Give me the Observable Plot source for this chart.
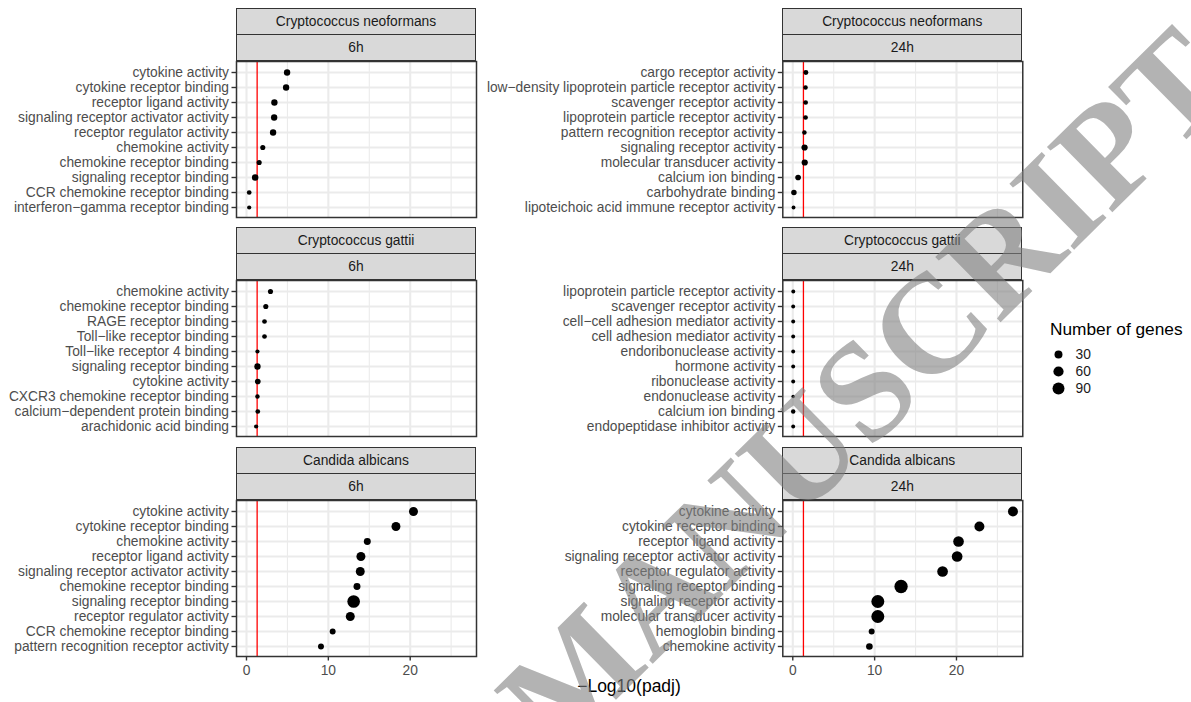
<!DOCTYPE html>
<html>
<head>
<meta charset="utf-8">
<script src="https://cdn.jsdelivr.net/npm/d3@7"></script>
<script src="https://cdn.jsdelivr.net/npm/@observablehq/plot@0.6"></script>
<style>
  body { margin: 0; background: #fff; }
  #chart { position: relative; width: 1191px; height: 702px; overflow: hidden;
           font-family: "Liberation Sans", Arial, sans-serif; }
  .abs { position: absolute; }
  .strip { position: absolute; box-sizing: border-box; background: #D9D9D9;
           border: 1.5px solid #333333; color: #1A1A1A; font-size: 13.8px;
           display: flex; align-items: center; justify-content: center; }
</style>
</head>
<body>
<div id="chart"></div>
<script>
// ---------------- data ----------------
const speciesNames = ["Cryptococcus neoformans", "Cryptococcus gattii", "Candida albicans"];
const timePoints = ["6h", "24h"];

const cn6Terms = ["cytokine activity", "cytokine receptor binding", "receptor ligand activity",
  "signaling receptor activator activity", "receptor regulator activity", "chemokine activity",
  "chemokine receptor binding", "signaling receptor binding", "CCR chemokine receptor binding",
  "interferon\u2212gamma receptor binding"];
const cn6LogP = [4.96, 4.84, 3.41, 3.38, 3.25, 1.99, 1.55, 1.06, 0.33, 0.33];
const cn6Genes = [15, 15, 15, 15, 15, 7, 7, 16, 5, 3];

const cn24Terms = ["cargo receptor activity", "low\u2212density lipoprotein particle receptor activity",
  "scavenger receptor activity", "lipoprotein particle receptor activity",
  "pattern recognition receptor activity", "signaling receptor activity",
  "molecular transducer activity", "calcium ion binding", "carbohydrate binding",
  "lipoteichoic acid immune receptor activity"];
const cn24LogP = [1.60, 1.56, 1.57, 1.56, 1.42, 1.44, 1.46, 0.65, 0.14, 0.09];
const cn24Genes = [6, 4, 5, 5, 4, 14, 14, 10, 9, 2];

const cg6Terms = ["chemokine activity", "chemokine receptor binding", "RAGE receptor binding",
  "Toll\u2212like receptor binding", "Toll\u2212like receptor 4 binding", "signaling receptor binding",
  "cytokine activity", "CXCR3 chemokine receptor binding", "calcium\u2212dependent protein binding",
  "arachidonic acid binding"];
const cg6LogP = [2.93, 2.36, 2.20, 2.20, 1.34, 1.34, 1.38, 1.34, 1.38, 1.18];
const cg6Genes = [7, 7, 5, 5, 3, 15, 10, 4, 5, 3];

const cg24Terms = ["lipoprotein particle receptor activity", "scavenger receptor activity",
  "cell\u2212cell adhesion mediator activity", "cell adhesion mediator activity",
  "endoribonuclease activity", "hormone activity", "ribonuclease activity",
  "endonuclease activity", "calcium ion binding", "endopeptidase inhibitor activity"];
const cg24LogP = [0.06, 0.05, 0.05, 0.05, 0.05, 0.05, 0.05, 0.04, 0.05, 0.05];
const cg24Genes = [2, 2, 2, 2, 2, 2, 2, 1, 4, 2];

const ca6Terms = ["cytokine activity", "cytokine receptor binding", "chemokine activity",
  "receptor ligand activity", "signaling receptor activator activity", "chemokine receptor binding",
  "signaling receptor binding", "receptor regulator activity", "CCR chemokine receptor binding",
  "pattern recognition receptor activity"];
const ca6LogP = [20.4, 18.26, 14.76, 13.98, 13.9, 13.5, 13.09, 12.68, 10.53, 9.1];
const ca6Genes = [42, 42, 20, 42, 42, 20, 103, 42, 12, 12];

const ca24Terms = ["cytokine activity", "cytokine receptor binding", "receptor ligand activity",
  "signaling receptor activator activity", "receptor regulator activity", "signaling receptor binding",
  "signaling receptor activity", "molecular transducer activity", "hemoglobin binding",
  "chemokine activity"];
const ca24LogP = [26.9, 22.8, 20.25, 20.08, 18.3, 13.23, 10.39, 10.39, 9.64, 9.36];
const ca24Genes = [56, 56, 67, 67, 67, 117, 110, 110, 12, 17];

const xMajorTicks = [0, 10, 20];
const xMinorTicks = [5, 15, 25];
const padjCutoff = 0.05;
const legendGenes = [30, 60, 90];

// ---------------- assemble ----------------
const panelSets = [
  [cn6Terms, cn6LogP, cn6Genes], [cn24Terms, cn24LogP, cn24Genes],
  [cg6Terms, cg6LogP, cg6Genes], [cg24Terms, cg24LogP, cg24Genes],
  [ca6Terms, ca6LogP, ca6Genes], [ca24Terms, ca24LogP, ca24Genes]
];
const panels = panelSets.map(([terms, lp, n], i) => ({
  species: speciesNames[Math.floor(i / 2)],
  time: timePoints[i % 2],
  row: Math.floor(i / 2), col: i % 2,
  terms,
  rows: terms.map((t, j) => ({term: t, logp: lp[j], genes: n[j]}))
}));

const FONT = "'Liberation Sans', Arial, sans-serif";
const FS = 13.8;
const xDomain = [-1.22, 28.1];
const rScale = {type: "sqrt", domain: [2, 100], range: [1.95, 6.243]};
const cutoff = -Math.log10(padjCutoff);

// layout
const svgLeft = [0, 480];
const panelLeft = [236, 782.3];
const panelW = 240;
const rowTop = [61, 280.3, 500];
const panelH = 156;
const stripH = 27;

const chart = document.getElementById("chart");

function addDiv(cls, styles, text) {
  const d = document.createElement("div");
  d.className = cls;
  Object.assign(d.style, styles);
  if (text != null) d.textContent = text;
  chart.appendChild(d);
  return d;
}

for (const p of panels) {
  const showX = p.row === 2;
  const mt = 2, mb = showX ? 40 : 2, mr = 4;
  const ml = panelLeft[p.col] - svgLeft[p.col];
  const width = ml + panelW + mr;
  const height = mt + panelH + mb;
  const marks = [
    Plot.gridX({ticks: xMinorTicks, stroke: "#EBEBEB", strokeOpacity: 1, strokeWidth: 1.1}),
    Plot.gridX({ticks: xMajorTicks, stroke: "#EBEBEB", strokeOpacity: 1, strokeWidth: 2.1}),
    Plot.gridY({stroke: "#EBEBEB", strokeOpacity: 1, strokeWidth: 2.1}),
    Plot.ruleX([cutoff], {stroke: "#FF0000", strokeWidth: 1.3}),
    Plot.dot(p.rows, {x: "logp", y: "term", r: "genes", fill: "black", stroke: "none"}),
    Plot.axisY({tickSize: 4.5, tickPadding: 3, stroke: "#333333", strokeWidth: 1.4,
      fill: "#4D4D4D", fontSize: FS, label: null}),
    Plot.frame({stroke: "#333333", strokeWidth: 1.5})
  ];
  if (showX) {
    marks.push(Plot.axisX({ticks: xMajorTicks, tickSize: 4.5, tickPadding: 4, stroke: "#333333",
      strokeWidth: 1.4, fill: "#4D4D4D", fontSize: FS, label: null}));
  }
  const svg = Plot.plot({
    width, height, marginLeft: ml, marginRight: mr, marginTop: mt, marginBottom: mb,
    style: {fontFamily: FONT, fontSize: FS + "px", background: "transparent", overflow: "visible"},
    x: {domain: xDomain, axis: null},
    y: {type: "point", domain: p.terms, padding: 0.6, axis: null},
    r: rScale,
    marks
  });
  svg.classList.add("abs");
  svg.style.left = svgLeft[p.col] + "px";
  svg.style.top = (rowTop[p.row] - mt) + "px";
  chart.appendChild(svg);

  // strips
  const top = rowTop[p.row] - 2 * stripH + 0.5;
  addDiv("strip", {left: panelLeft[p.col] + "px", top: top + "px", width: panelW + "px", height: stripH + "px"}, p.species);
  addDiv("strip", {left: panelLeft[p.col] + "px", top: (top + stripH - 1) + "px", width: panelW + "px", height: (stripH + 0.5) + "px"}, p.time);
}

// x-axis title
addDiv("abs", {left: "529px", width: "200px", top: "676px", textAlign: "center",
  fontSize: "17.5px", lineHeight: "20px", color: "#000"}, "\u2212Log10(padj)");

// legend
addDiv("abs", {left: "1050px", top: "319px", fontSize: "17.3px", lineHeight: "20px", color: "#000",
  whiteSpace: "nowrap"}, "Number of genes");
const legend = Plot.plot({
  width: 80, height: 54, marginTop: 10, marginBottom: 10, marginLeft: 18, marginRight: 0,
  style: {fontFamily: FONT, fontSize: FS + "px", background: "transparent", overflow: "visible"},
  y: {type: "point", domain: legendGenes, padding: 0, axis: null},
  r: rScale,
  marks: [
    Plot.dot(legendGenes, {y: d => d, r: d => d, fill: "black", stroke: "none", frameAnchor: "left"}),
    Plot.text(legendGenes, {y: d => d, text: d => String(d), frameAnchor: "left", dx: 17,
      textAnchor: "start", fill: "#1A1A1A", fontSize: FS})
  ]
});
legend.classList.add("abs");
legend.style.left = "1040px";
legend.style.top = "344px";
chart.appendChild(legend);

// watermark overlay (as in the reference image)
const ns = "http://www.w3.org/2000/svg";
const wm = document.createElementNS(ns, "svg");
wm.setAttribute("width", 1191); wm.setAttribute("height", 702);
wm.setAttribute("class", "abs");
wm.style.left = "0px"; wm.style.top = "0px"; wm.style.pointerEvents = "none";
const wt = document.createElementNS(ns, "text");
wt.setAttribute("transform", "translate(865,390) rotate(-44.5)");
wt.setAttribute("text-anchor", "middle");
wt.setAttribute("dy", "0.33em");
wt.setAttribute("font-family", "'Liberation Serif', 'Times New Roman', serif");
wt.setAttribute("font-weight", "bold");
wt.setAttribute("font-size", "141");
wt.setAttribute("fill", "#808080");
wt.setAttribute("fill-opacity", "0.6");
wt.textContent = "MANUSCRIPT";
wm.appendChild(wt);
chart.appendChild(wm);
</script>
</body>
</html>
